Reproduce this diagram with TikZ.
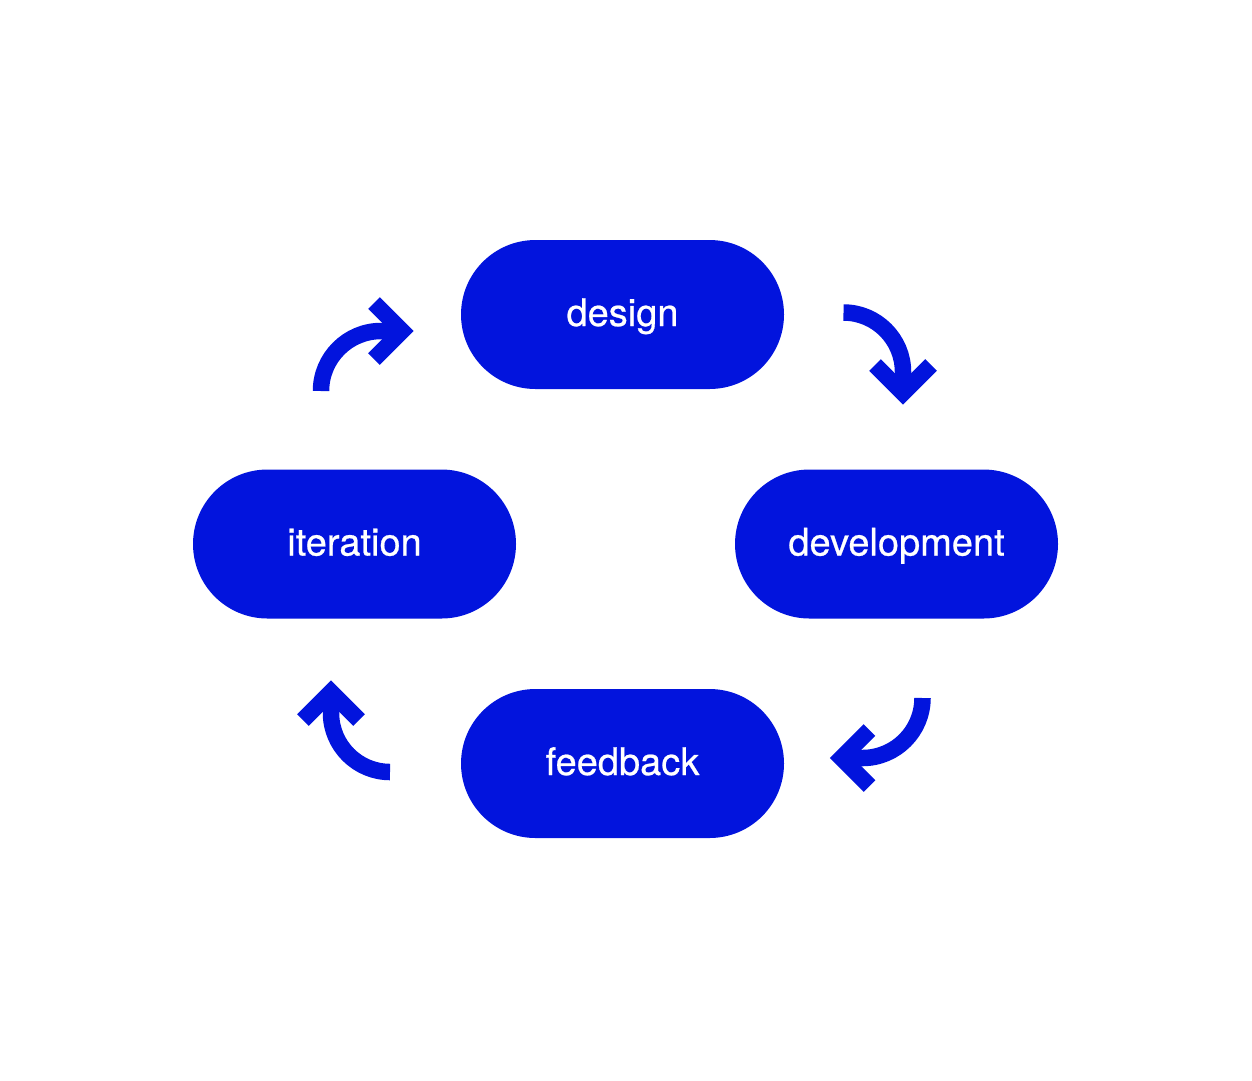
\documentclass[tikz,border=0pt]{standalone}
\usepackage{fontspec}
\setmainfont{TeX Gyre Heros}
\newfontfamily\stagefont{TeX Gyre Heros}[FakeBold=0.6]
\usetikzlibrary{positioning}
\definecolor{brandblue}{RGB}{2,20,221}

\begin{document}
\begin{tikzpicture}[
    x=1pt, y=-1pt,
    stage/.style={draw=none, fill=brandblue, rectangle, rounded corners=74.5pt,
        minimum width=323pt, minimum height=149pt, inner sep=0pt,
        text height=23pt, text depth=0pt,
        text=white, font=\stagefont\fontsize{38}{40}\selectfont},
    cycle/.style={draw=brandblue, line width=16.5pt, line cap=butt},
    chevron/.style={cycle, line join=miter}
]
\useasboundingbox (0,0) rectangle (1252,1080);

% Stages of the loop
\node[stage] (design) at (622.5,314.5) {design};
\node[stage] (development) at (896.5,544) {development};
\node[stage] (feedback) at (622.5,763.5) {feedback};
\node[stage] (iteration) at (354.5,544) {iteration};

% Arrow starts
\coordinate (toDesign) at (321,391);
\coordinate (toDevelopment) at (843.5,312.5);
\coordinate (toFeedback) at (922.5,698);
\coordinate (toIteration) at (390,772);

% iteration -> design
\draw[cycle] (toDesign) arc[start angle=180, end angle=270, radius=60] -- ++(21,0) coordinate (tipDesign);
\draw[chevron] (tipDesign) ++(-28,-28) -- (tipDesign) -- ++(-28,28);

% design -> development
\draw[cycle] (toDevelopment) arc[start angle=270, end angle=360, radius=59.5] -- ++(0,21) coordinate (tipDevelopment);
\draw[chevron] (tipDevelopment) ++(-28,-28) -- (tipDevelopment) -- ++(28,-28);

% development -> feedback
\draw[cycle] (toFeedback) arc[start angle=0, end angle=90, radius=60] -- ++(-21,0) coordinate (tipFeedback);
\draw[chevron] (tipFeedback) ++(28,-28) -- (tipFeedback) -- ++(28,28);

% feedback -> iteration
\draw[cycle] (toIteration) arc[start angle=90, end angle=180, radius=59] -- ++(0,-21) coordinate (tipIteration);
\draw[chevron] (tipIteration) ++(-28,28) -- (tipIteration) -- ++(28,28);

\end{tikzpicture}
\end{document}
